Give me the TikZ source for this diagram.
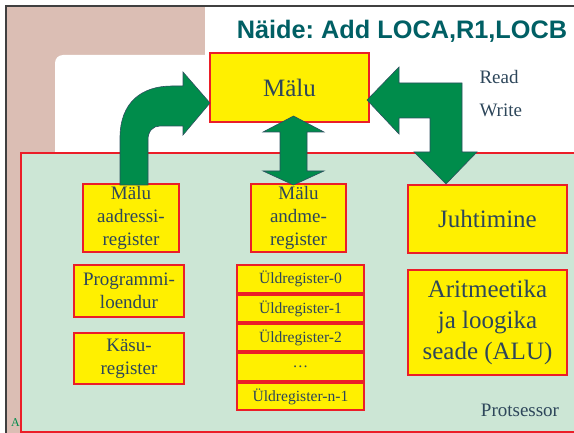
\documentclass[tikz,border=0pt]{standalone}
\usepackage{fontspec}
\setmainfont{Liberation Serif}
\newfontfamily\titlefont{Liberation Sans}
\usetikzlibrary{positioning}
\definecolor{boxyellow}{RGB}{255,240,0}
\definecolor{boxred}{RGB}{235,30,40}
\definecolor{cpugreen}{RGB}{204,230,213}
\definecolor{arrowgreen}{RGB}{0,140,75}
\definecolor{arrowedge}{RGB}{45,80,95}
\definecolor{textgray}{RGB}{45,70,90}
\definecolor{titleteal}{RGB}{0,95,100}
\definecolor{paper}{RGB}{219,190,180}
\definecolor{framegray}{RGB}{64,64,64}
\tikzset{
  unit/.style={draw=boxred,fill=boxyellow,line width=2pt,text=textgray,inner sep=0pt,align=center},
  bigtext/.style={font=\fontsize{25}{31}\selectfont},
  midtext/.style={font=\fontsize{19}{23}\selectfont},
  smalltext/.style={font=\fontsize{15.6}{18}\selectfont},
  reg/.style={unit,smalltext,minimum width=127pt,minimum height=27.4pt},
  fatarrow/.style={fill=arrowgreen,draw=arrowedge,line width=0.6pt,line join=miter}
}
\frenchspacing
\begin{document}
\begin{tikzpicture}[x=1pt,y=-1pt]
\useasboundingbox (0,0) rectangle (574,433);
\fill[paper] (7,7) rectangle (205,433);
\fill[white,rounded corners=8pt] (55,55) rectangle (320,460);
\draw[framegray,line width=2pt] (6,433) -- (6,6) -- (574,6);
\filldraw[fill=cpugreen,draw=boxred,line width=2pt] (21,153) rectangle (600,432);
\node[text=arrowgreen,font=\fontsize{12}{12}\selectfont] (cut) at (15.5,423) {A};
\node[font=\titlefont\bfseries\fontsize{25.3}{30}\selectfont,text=titleteal] (title) at (402,31) {Näide: Add LOCA,R1,LOCB};
\node[unit,bigtext,minimum width=159pt,minimum height=69pt] (malu) at (289.5,87.5) {Mälu};
\node[anchor=west,text=textgray,midtext] (read) at (476,77) {Read};
\node[anchor=west,text=textgray,midtext] (write) at (476,110) {Write};
\node[unit,midtext,minimum width=96pt,minimum height=68pt] (aadr) at (131,218) {Mälu\\aadressi-\\register};
\node[unit,midtext,minimum width=95pt,minimum height=68pt] (andme) at (298.5,218) {Mälu\\andme-\\register};
\node[unit,bigtext,minimum width=159pt,minimum height=68pt] (juht) at (487.5,219) {Juhtimine};
\node[unit,bigtext,minimum width=159pt,minimum height=105pt] (alu) at (487.5,322.5) {Aritmeetika\\ja loogika\\seade (ALU)};
\node[unit,midtext,minimum width=110pt,minimum height=52pt] (prog) at (129,291) {Programmi-\\loendur};
\node[unit,midtext,minimum width=110pt,minimum height=51pt] (kasu) at (129,358.5) {Käsu-\\register};
\node[reg] (r0) at (300.5,279) {Üldregister-0};
\node[reg,below=0pt of r0] (r1) {Üldregister-1};
\node[reg,below=0pt of r1] (r2) {Üldregister-2};
\node[reg,below=0pt of r2] (rdots) {…};
\node[reg,below=0pt of rdots] (rn) {Üldregister-n-1};
\node[text=textgray,midtext] (cpu) at (520,410) {Protsessor};
\filldraw[fatarrow] (120,185) -- (120,138) .. controls (120,102) and (142,86) .. (172,86) -- (183,86) -- (183,72) -- (210,103) -- (183,135) -- (183,126) -- (160,126) .. controls (153,126) and (148,131) .. (148,140) -- (148,185) -- cycle;
\filldraw[fatarrow] (293.5,116) -- (324,132) -- (307,132) -- (307,171) -- (324,171) -- (293.5,185) -- (263,171) -- (280,171) -- (280,132) -- (263,132) -- cycle;
\filldraw[fatarrow] (367,100) -- (399,67) -- (399,83) -- (462,83) -- (462,152) -- (477,152) -- (446,184) -- (414,152) -- (430,152) -- (430,118) -- (399,118) -- (399,134) -- cycle;
\end{tikzpicture}
\end{document}
